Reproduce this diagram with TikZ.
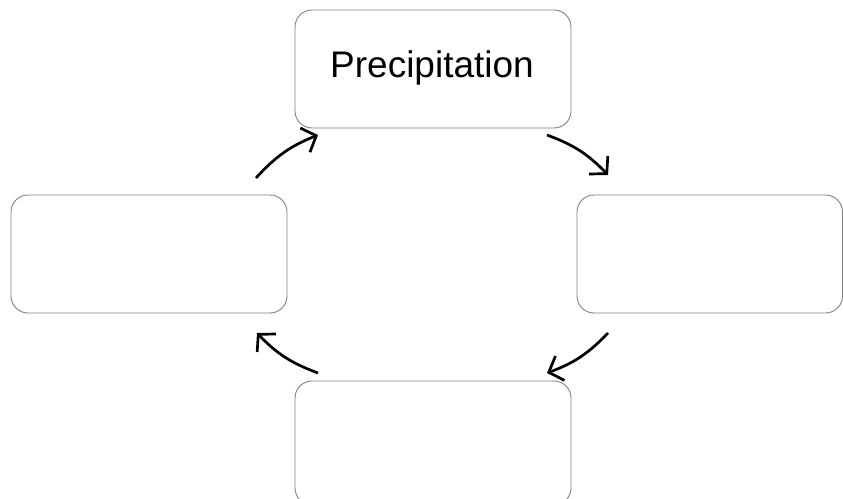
\documentclass[tikz,border=0pt]{standalone}
\usepackage{fontspec}
\setmainfont{Liberation Sans}
\usetikzlibrary{arrows.meta}
\begin{document}
\begin{tikzpicture}[x=1pt,y=-1pt,
  box/.style={draw=black!50, line width=0.9pt, rounded corners=17pt, fill=white},
  cyc/.style={line width=2.7pt, -{Straight Barb[length=12pt,width=26pt,line width=2.7pt]}, bend left=13}]
\useasboundingbox (0,0) rectangle (843,498);
\draw[box] (295,10) rectangle (571,128);
\node[font=\fontsize{37}{40}\selectfont] (top) at (432,68) {Precipitation};
\draw[box] (577,195) rectangle (842.5,313);
\coordinate (right) at (710,254);
\draw[box] (11,195) rectangle (287,313);
\coordinate (left) at (149,254);
\draw[box] (295,381) rectangle (571,505);
\coordinate (bottom) at (433,440);
\coordinate (a1) at (547,135);
\coordinate (a2) at (608,175);
\coordinate (b1) at (608,333);
\coordinate (b2) at (547,373);
\coordinate (c1) at (318,373);
\coordinate (c2) at (257,333);
\coordinate (d1) at (256,178);
\coordinate (d2) at (318,135);
\draw[cyc] (a1) to (a2);
\draw[cyc] (b1) to (b2);
\draw[cyc] (c1) to (c2);
\draw[cyc] (d1) to (d2);
\end{tikzpicture}
\end{document}
